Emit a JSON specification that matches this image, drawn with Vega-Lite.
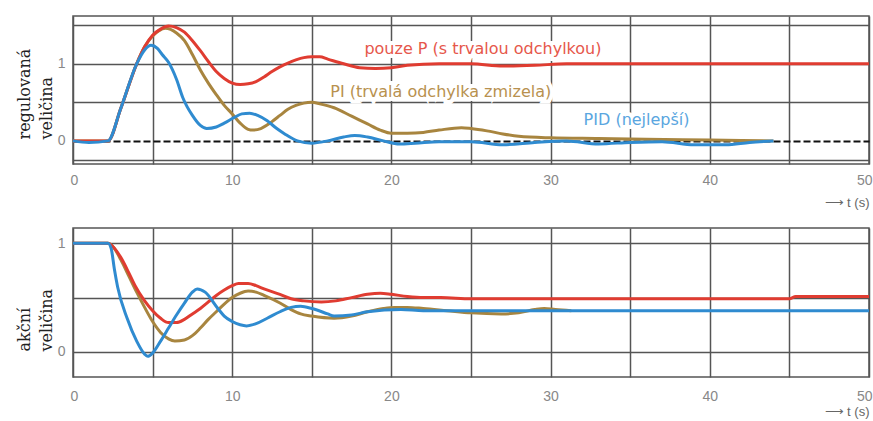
{
  "$schema": "https://vega.github.io/schema/vega-lite/v6.json",
  "background": "white",
  "padding": {"left": 15, "top": 15, "right": 0, "bottom": 0},
  "spacing": 17,
  "config": {
    "view": {"stroke": "#555", "strokeWidth": 1.5},
    "axis": {
      "grid": true, "gridColor": "#555", "gridWidth": 1.5, "gridOpacity": 1,
      "domain": false, "ticks": false,
      "labelColor": "#888", "labelFont": "Liberation Sans", "labelFontSize": 14, "labelOverlap": false,
      "titleFont": "DejaVu Serif", "titleFontSize": 16, "titleFontWeight": "normal", "titleColor": "#222"
    }
  },
  "datasets": {
    "top": [
      {"s":"PI","t":0,"v":0},{"s":"PI","t":2.2,"v":0},{"s":"PI","t":3,"v":0.42},{"s":"PI","t":4,"v":1.0},{"s":"PI","t":4.5,"v":1.22},{"s":"PI","t":5,"v":1.36},{"s":"PI","t":5.4,"v":1.43},{"s":"PI","t":5.8,"v":1.46},{"s":"PI","t":6.5,"v":1.40},{"s":"PI","t":7,"v":1.3},{"s":"PI","t":7.5,"v":1.12},{"s":"PI","t":8,"v":0.92},{"s":"PI","t":8.5,"v":0.75},{"s":"PI","t":9,"v":0.6},{"s":"PI","t":9.5,"v":0.46},{"s":"PI","t":10,"v":0.35},{"s":"PI","t":10.5,"v":0.23},{"s":"PI","t":11,"v":0.15},{"s":"PI","t":11.3,"v":0.14},{"s":"PI","t":11.8,"v":0.16},{"s":"PI","t":12.5,"v":0.25},{"s":"PI","t":13,"v":0.33},{"s":"PI","t":13.5,"v":0.41},{"s":"PI","t":14,"v":0.46},{"s":"PI","t":14.5,"v":0.49},{"s":"PI","t":15,"v":0.5},{"s":"PI","t":15.5,"v":0.48},{"s":"PI","t":16.4,"v":0.43},{"s":"PI","t":17.5,"v":0.32},{"s":"PI","t":18.5,"v":0.22},{"s":"PI","t":19.3,"v":0.14},{"s":"PI","t":20,"v":0.1},{"s":"PI","t":21,"v":0.1},{"s":"PI","t":22,"v":0.11},{"s":"PI","t":23,"v":0.14},{"s":"PI","t":24.4,"v":0.17},{"s":"PI","t":25,"v":0.16},{"s":"PI","t":26,"v":0.13},{"s":"PI","t":27,"v":0.09},{"s":"PI","t":28,"v":0.06},{"s":"PI","t":30,"v":0.04},{"s":"PI","t":33,"v":0.03},{"s":"PI","t":36,"v":0.02},{"s":"PI","t":40,"v":0.01},{"s":"PI","t":44,"v":0},
      {"s":"P","t":0,"v":0},{"s":"P","t":2.2,"v":0},{"s":"P","t":3,"v":0.42},{"s":"P","t":4,"v":1.0},{"s":"P","t":4.5,"v":1.22},{"s":"P","t":5,"v":1.37},{"s":"P","t":5.5,"v":1.45},{"s":"P","t":6,"v":1.49},{"s":"P","t":6.5,"v":1.47},{"s":"P","t":7,"v":1.41},{"s":"P","t":7.5,"v":1.3},{"s":"P","t":8,"v":1.17},{"s":"P","t":8.5,"v":1.03},{"s":"P","t":9,"v":0.9},{"s":"P","t":9.5,"v":0.81},{"s":"P","t":10,"v":0.75},{"s":"P","t":10.5,"v":0.73},{"s":"P","t":11,"v":0.74},{"s":"P","t":11.5,"v":0.77},{"s":"P","t":12,"v":0.83},{"s":"P","t":12.5,"v":0.9},{"s":"P","t":13,"v":0.96},{"s":"P","t":13.5,"v":1.01},{"s":"P","t":14,"v":1.05},{"s":"P","t":14.5,"v":1.08},{"s":"P","t":15,"v":1.09},{"s":"P","t":15.5,"v":1.09},{"s":"P","t":16,"v":1.06},{"s":"P","t":17,"v":1.0},{"s":"P","t":18,"v":0.95},{"s":"P","t":19,"v":0.94},{"s":"P","t":20,"v":0.95},{"s":"P","t":21,"v":0.98},{"s":"P","t":23,"v":1.0},{"s":"P","t":25,"v":1.0},{"s":"P","t":27,"v":0.97},{"s":"P","t":29,"v":0.98},{"s":"P","t":31,"v":1.0},{"s":"P","t":50,"v":1.0},
      {"s":"PID","t":0,"v":0},{"s":"PID","t":1,"v":-0.02},{"s":"PID","t":2.2,"v":0},{"s":"PID","t":3,"v":0.42},{"s":"PID","t":4,"v":1.0},{"s":"PID","t":4.5,"v":1.18},{"s":"PID","t":4.9,"v":1.24},{"s":"PID","t":5.3,"v":1.2},{"s":"PID","t":5.6,"v":1.12},{"s":"PID","t":6,"v":1.02},{"s":"PID","t":6.5,"v":0.8},{"s":"PID","t":6.9,"v":0.56},{"s":"PID","t":7.5,"v":0.33},{"s":"PID","t":8,"v":0.2},{"s":"PID","t":8.4,"v":0.16},{"s":"PID","t":9,"v":0.18},{"s":"PID","t":9.5,"v":0.23},{"s":"PID","t":10.1,"v":0.3},{"s":"PID","t":10.6,"v":0.35},{"s":"PID","t":11.1,"v":0.36},{"s":"PID","t":11.6,"v":0.33},{"s":"PID","t":12.2,"v":0.26},{"s":"PID","t":12.8,"v":0.16},{"s":"PID","t":13.3,"v":0.09},{"s":"PID","t":14.1,"v":0},{"s":"PID","t":15,"v":-0.03},{"s":"PID","t":16,"v":0},{"s":"PID","t":17,"v":0.05},{"s":"PID","t":17.7,"v":0.07},{"s":"PID","t":18.5,"v":0.05},{"s":"PID","t":19.5,"v":0},{"s":"PID","t":20.5,"v":-0.04},{"s":"PID","t":21.5,"v":-0.03},{"s":"PID","t":23,"v":-0.01},{"s":"PID","t":25,"v":-0.01},{"s":"PID","t":27,"v":-0.05},{"s":"PID","t":29,"v":-0.02},{"s":"PID","t":31,"v":0},{"s":"PID","t":33,"v":-0.04},{"s":"PID","t":35,"v":-0.02},{"s":"PID","t":37,"v":-0.01},{"s":"PID","t":39,"v":-0.05},{"s":"PID","t":41,"v":-0.05},{"s":"PID","t":42.5,"v":-0.02},{"s":"PID","t":44,"v":0}
    ],
    "bottom": [
      {"s":"PI","t":0,"v":1},{"s":"PI","t":2.2,"v":1},{"s":"PI","t":2.5,"v":0.97},{"s":"PI","t":3,"v":0.85},{"s":"PI","t":3.5,"v":0.7},{"s":"PI","t":4,"v":0.55},{"s":"PI","t":4.5,"v":0.41},{"s":"PI","t":5,"v":0.28},{"s":"PI","t":5.5,"v":0.18},{"s":"PI","t":6,"v":0.12},{"s":"PI","t":6.4,"v":0.1},{"s":"PI","t":7,"v":0.11},{"s":"PI","t":7.5,"v":0.15},{"s":"PI","t":8,"v":0.22},{"s":"PI","t":8.5,"v":0.3},{"s":"PI","t":9,"v":0.37},{"s":"PI","t":9.5,"v":0.44},{"s":"PI","t":10,"v":0.5},{"s":"PI","t":10.5,"v":0.54},{"s":"PI","t":11,"v":0.56},{"s":"PI","t":11.5,"v":0.55},{"s":"PI","t":12,"v":0.52},{"s":"PI","t":13,"v":0.45},{"s":"PI","t":13.7,"v":0.39},{"s":"PI","t":14.3,"v":0.35},{"s":"PI","t":15,"v":0.33},{"s":"PI","t":16.4,"v":0.31},{"s":"PI","t":17.5,"v":0.33},{"s":"PI","t":18.5,"v":0.37},{"s":"PI","t":19.5,"v":0.4},{"s":"PI","t":20.2,"v":0.41},{"s":"PI","t":21,"v":0.41},{"s":"PI","t":22,"v":0.4},{"s":"PI","t":23.5,"v":0.38},{"s":"PI","t":25,"v":0.36},{"s":"PI","t":26.9,"v":0.35},{"s":"PI","t":28,"v":0.36},{"s":"PI","t":29,"v":0.39},{"s":"PI","t":29.6,"v":0.4},{"s":"PI","t":30.3,"v":0.39},{"s":"PI","t":31.3,"v":0.38},
      {"s":"P","t":0,"v":1},{"s":"P","t":2.2,"v":1},{"s":"P","t":2.5,"v":0.97},{"s":"P","t":3,"v":0.87},{"s":"P","t":3.5,"v":0.73},{"s":"P","t":3.9,"v":0.61},{"s":"P","t":4.5,"v":0.47},{"s":"P","t":5,"v":0.38},{"s":"P","t":5.5,"v":0.31},{"s":"P","t":6,"v":0.27},{"s":"P","t":6.5,"v":0.27},{"s":"P","t":7,"v":0.3},{"s":"P","t":7.5,"v":0.35},{"s":"P","t":8,"v":0.4},{"s":"P","t":8.5,"v":0.46},{"s":"P","t":9,"v":0.52},{"s":"P","t":9.5,"v":0.57},{"s":"P","t":10,"v":0.61},{"s":"P","t":10.4,"v":0.63},{"s":"P","t":11,"v":0.63},{"s":"P","t":11.5,"v":0.61},{"s":"P","t":12,"v":0.58},{"s":"P","t":13,"v":0.53},{"s":"P","t":13.7,"v":0.49},{"s":"P","t":14.5,"v":0.47},{"s":"P","t":15.6,"v":0.46},{"s":"P","t":16.5,"v":0.47},{"s":"P","t":17.5,"v":0.5},{"s":"P","t":18.5,"v":0.53},{"s":"P","t":19.3,"v":0.54},{"s":"P","t":20,"v":0.53},{"s":"P","t":21,"v":0.51},{"s":"P","t":22,"v":0.5},{"s":"P","t":23.1,"v":0.5},{"s":"P","t":25,"v":0.49},{"s":"P","t":30,"v":0.49},{"s":"P","t":45,"v":0.49},{"s":"P","t":45.4,"v":0.51},{"s":"P","t":50,"v":0.51},
      {"s":"PID","t":0,"v":1},{"s":"PID","t":2.2,"v":1},{"s":"PID","t":2.4,"v":0.95},{"s":"PID","t":2.6,"v":0.76},{"s":"PID","t":2.8,"v":0.6},{"s":"PID","t":3.4,"v":0.31},{"s":"PID","t":4,"v":0.1},{"s":"PID","t":4.5,"v":-0.02},{"s":"PID","t":4.7,"v":-0.04},{"s":"PID","t":5,"v":-0.01},{"s":"PID","t":5.5,"v":0.1},{"s":"PID","t":6,"v":0.22},{"s":"PID","t":6.5,"v":0.34},{"s":"PID","t":7,"v":0.45},{"s":"PID","t":7.5,"v":0.55},{"s":"PID","t":7.8,"v":0.58},{"s":"PID","t":8.3,"v":0.55},{"s":"PID","t":9.1,"v":0.4},{"s":"PID","t":9.5,"v":0.33},{"s":"PID","t":10,"v":0.28},{"s":"PID","t":10.5,"v":0.25},{"s":"PID","t":10.9,"v":0.24},{"s":"PID","t":11.5,"v":0.26},{"s":"PID","t":12.2,"v":0.31},{"s":"PID","t":13,"v":0.37},{"s":"PID","t":13.7,"v":0.41},{"s":"PID","t":14.3,"v":0.42},{"s":"PID","t":15,"v":0.4},{"s":"PID","t":16,"v":0.35},{"s":"PID","t":16.4,"v":0.33},{"s":"PID","t":17.5,"v":0.34},{"s":"PID","t":18.5,"v":0.37},{"s":"PID","t":20.6,"v":0.39},{"s":"PID","t":22,"v":0.38},{"s":"PID","t":50,"v":0.38}
    ],
    "labels": [
      {"label":"pouze P (s trvalou odchylkou)","s":"P","t":25.75,"v":1.19},
      {"label":"PI (trvalá odchylka zmizela)","s":"PI","t":23.1,"v":0.64},
      {"label":"PID (nejlepší)","s":"PID","t":35.4,"v":0.27}
    ]
  },
  "vconcat": [
    {
      "width": 796,
      "height": 148,
      "resolve": {"scale": {"color": "independent"}},
      "encoding": {
        "x": {"field": "t", "type": "quantitative", "scale": {"domain": [0, 50], "nice": false, "zero": false},
          "axis": {"values": [0,5,10,15,20,25,30,35,40,45,50], "labelExpr": "datum.value % 10 === 0 ? '' + datum.value : ''", "labelFlush": true, "labelFlushOffset": 3, "labelPadding": 9,
            "title": "⟶  t (s)", "titleAnchor": "end", "titleAlign": "right", "titleFont": "Liberation Sans", "titleFontSize": 13, "titleColor": "#666", "titleBaseline": "middle", "titleY": 38}},
        "y": {"field": "v", "type": "quantitative", "scale": {"domain": [-0.3, 1.62], "nice": false, "zero": false},
          "axis": {"values": [-0.25, 0, 0.5, 1, 1.5], "labelExpr": "datum.value === 0 ? '0' : datum.value === 1 ? '1' : ''", "labelPadding": 8,
            "gridDash": {"condition": {"test": "datum.value === 0", "value": [7, 3]}, "value": []},
            "gridColor": {"condition": {"test": "datum.value === 0", "value": "#111"}, "value": "#555"},
            "gridWidth": {"condition": {"test": "datum.value === 0", "value": 2.2}, "value": 1.5},
            "title": ["regulovaná", "veličina"], "titleAngle": 270, "titleAlign": "left", "titleBaseline": "top", "titleX": -57, "titleY": 123, "titleLineHeight": 22}}
      },
      "layer": [
        {
          "data": {"name": "labels"},
          "mark": {"type": "text", "font": "DejaVu Sans", "fontSize": 16, "fill": "white", "stroke": "white", "strokeWidth": 8, "baseline": "middle", "align": "center"},
          "encoding": {"text": {"field": "label"}}
        },
        {
          "data": {"name": "top"},
          "mark": {"type": "line", "strokeWidth": 3, "interpolate": "monotone"},
          "encoding": {
            "color": {"field": "s", "type": "nominal", "scale": {"domain": ["PI", "P", "PID"], "range": ["#a8853f", "#e03c31", "#2f8bd0"]}, "legend": null}
          }
        },
        {
          "data": {"name": "labels"},
          "mark": {"type": "text", "font": "DejaVu Sans", "fontSize": 16, "baseline": "middle", "align": "center"},
          "encoding": {
            "text": {"field": "label"},
            "color": {"field": "s", "type": "nominal", "scale": {"domain": ["PI", "P", "PID"], "range": ["#b8914f", "#e6574b", "#5aa6e0"]}, "legend": null}
          }
        }
      ]
    },
    {
      "width": 796,
      "height": 149,
      "data": {"name": "bottom"},
      "mark": {"type": "line", "strokeWidth": 3, "interpolate": "monotone"},
      "encoding": {
        "x": {"field": "t", "type": "quantitative", "scale": {"domain": [0, 50], "nice": false, "zero": false},
          "axis": {"values": [0,5,10,15,20,25,30,35,40,45,50], "labelExpr": "datum.value % 10 === 0 ? '' + datum.value : ''", "labelFlush": true, "labelFlushOffset": 3, "labelPadding": 12,
            "title": "⟶  t (s)", "titleAnchor": "end", "titleAlign": "right", "titleFont": "Liberation Sans", "titleFontSize": 13, "titleColor": "#666", "titleBaseline": "middle", "titleY": 34}},
        "y": {"field": "v", "type": "quantitative", "scale": {"domain": [-0.23, 1.14], "nice": false, "zero": false},
          "axis": {"values": [0, 0.5, 1], "labelExpr": "datum.value === 0 ? '0' : datum.value === 1 ? '1' : ''", "labelPadding": 8,
            "title": ["akční", "veličina"], "titleAngle": 270, "titleAlign": "left", "titleBaseline": "top", "titleX": -57, "titleY": 123, "titleLineHeight": 22}},
        "color": {"field": "s", "type": "nominal", "scale": {"domain": ["PI", "P", "PID"], "range": ["#a8853f", "#e03c31", "#2f8bd0"]}, "legend": null}
      }
    }
  ]
}
